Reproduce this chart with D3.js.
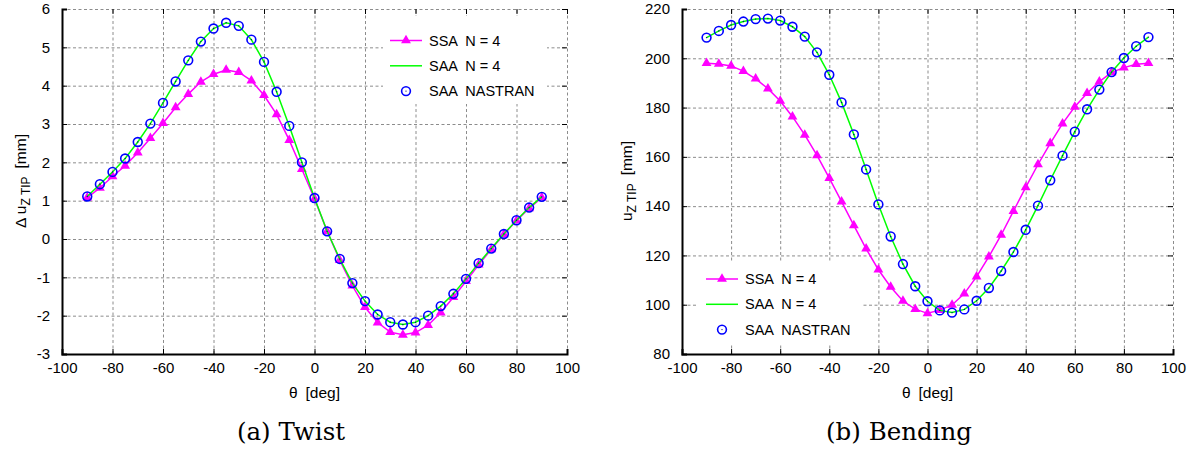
<!DOCTYPE html>
<html>
<head>
<meta charset="utf-8">
<script src="https://cdn.jsdelivr.net/npm/d3@7/dist/d3.min.js"></script>
<style>
  body { margin: 0; background: #fff; }
  svg { font-family: "Liberation Sans", Arial, sans-serif; }
  svg text { white-space: pre; }
</style>
</head>
<body>
<div id="chart"></div>
<script>
// theta [deg]
var theta = [-90,-85,-80,-75,-70,-65,-60,-55,-50,-45,-40,-35,-30,-25,-20,-15,-10,-5,0,
             5,10,15,20,25,30,35,40,45,50,55,60,65,70,75,80,85,90];

// (a) Twist, delta u_z tip [mm]
var twistSSA = [1.08,1.33,1.63,1.91,2.25,2.63,3.02,3.43,3.78,4.1,4.3,4.41,4.35,4.13,3.75,3.25,2.58,1.82,1.05,
                0.2,-0.55,-1.22,-1.78,-2.18,-2.43,-2.5,-2.44,-2.25,-1.92,-1.52,-1.1,-0.67,-0.27,0.12,0.48,0.8,1.08];
var twistSAA = [1.11,1.43,1.75,2.1,2.53,3.01,3.55,4.11,4.66,5.15,5.49,5.64,5.56,5.2,4.62,3.84,2.95,2.0,1.07,
                0.2,-0.52,-1.15,-1.62,-1.97,-2.17,-2.23,-2.17,-2.0,-1.75,-1.43,-1.04,-0.63,-0.25,0.13,0.49,0.82,1.1];
var twistNastran = [1.11,1.43,1.75,2.1,2.53,3.01,3.55,4.11,4.66,5.15,5.49,5.64,5.56,5.2,4.62,3.84,2.95,2.0,1.07,
                0.2,-0.52,-1.15,-1.62,-1.97,-2.17,-2.23,-2.17,-2.0,-1.75,-1.43,-1.04,-0.63,-0.25,0.13,0.49,0.82,1.1];

// (b) Bending, u_z tip [mm]
var bendSSA = [198.0,197.7,196.9,194.8,191.7,187.7,182.7,176.3,168.9,160.6,151.4,141.8,132.2,122.7,114.2,107.2,101.5,98.2,96.5,
               97.8,99.9,104.5,111.4,119.5,128.3,138.0,147.6,156.9,165.5,173.5,180.3,185.8,190.5,194.3,196.2,197.6,198.0];
var bendSAA = [208.4,211.1,213.5,214.9,215.9,216.1,215.3,212.8,208.8,202.4,193.3,182.1,169.1,154.9,140.7,127.7,116.5,107.5,101.4,
               97.7,96.8,98.1,101.6,106.8,113.7,121.4,130.4,140.2,150.5,160.5,170.2,179.3,187.3,194.4,200.1,204.9,208.6];
var bendNastran = [208.4,211.1,213.5,214.9,215.9,216.1,215.3,212.8,208.8,202.4,193.3,182.1,169.1,154.9,140.7,127.7,116.5,107.5,101.4,
               97.7,96.8,98.1,101.6,106.8,113.7,121.4,130.4,140.2,150.5,160.5,170.2,179.3,187.3,194.4,200.1,204.9,208.6];

var xTicks = [-100,-80,-60,-40,-20,0,20,40,60,80,100];
var twistTicks = [-3,-2,-1,0,1,2,3,4,5,6];
var bendTicks = [80,100,120,140,160,180,200,220];
var seriesNames = ["SSA  N = 4", "SAA  N = 4", "SAA  NASTRAN"];

var magenta = "#ff00ff", green = "#00ff00", blue = "#0000ff";

var svg = d3.select("#chart").append("svg").attr("width", 1199).attr("height", 453);

function panel(cfg) {
  var x = d3.scaleLinear().domain([-100, 100]).range([cfg.left, cfg.right]);
  var y = d3.scaleLinear().domain(cfg.yDomain).range([354, 9]);
  var g = svg.append("g");

  // grid
  g.append("g").attr("transform", "translate(0,354)")
    .call(d3.axisBottom(x).tickValues(xTicks).tickSize(-345).tickFormat(""))
    .call(a => a.select(".domain").remove())
    .selectAll("line").attr("stroke", "#8c8c8c").attr("stroke-dasharray", "3,2.5");
  g.append("g").attr("transform", "translate(" + cfg.left + ",0)")
    .call(d3.axisLeft(y).tickValues(cfg.yTicks).tickSize(-(cfg.right - cfg.left)).tickFormat(""))
    .call(a => a.select(".domain").remove())
    .selectAll("line").attr("stroke", "#8c8c8c").attr("stroke-dasharray", "3,2.5");

  // inward ticks on top/right
  g.append("g").attr("transform", "translate(0,9)")
    .call(d3.axisTop(x).tickValues(xTicks).tickSize(-5).tickFormat(""))
    .call(a => a.select(".domain").remove())
    .selectAll("line").attr("stroke", "#000");
  g.append("g").attr("transform", "translate(" + cfg.right + ",0)")
    .call(d3.axisRight(y).tickValues(cfg.yTicks).tickSize(-5).tickFormat(""))
    .call(a => a.select(".domain").remove())
    .selectAll("line").attr("stroke", "#000");

  // legend background (drawn before data)
  var lg = cfg.legend;
  g.append("rect").attr("x", lg.x).attr("y", lg.y).attr("width", lg.w).attr("height", lg.h).attr("fill", "#fff");

  // bottom / left axes with labels
  var bx = g.append("g").attr("transform", "translate(0,354)")
    .call(d3.axisBottom(x).tickValues(xTicks).tickSize(-5).tickPadding(8).tickFormat(d => String(d)));
  var ly = g.append("g").attr("transform", "translate(" + cfg.left + ",0)")
    .call(d3.axisLeft(y).tickValues(cfg.yTicks).tickSize(-5).tickPadding(12).tickFormat(d => String(d)));
  [bx, ly].forEach(function(a) {
    a.select(".domain").attr("stroke-width", 2);
    a.selectAll("text").attr("font-size", 15).attr("fill", "#000")
      .attr("font-family", "Liberation Sans, Arial, sans-serif");
  });

  var pts = function(vals) { return theta.map(function(t, i) { return [t, vals[i]]; }); };
  var line = d3.line().x(d => x(d[0])).y(d => y(d[1]));

  // SSA
  g.append("path").datum(pts(cfg.ssa)).attr("d", line)
    .attr("fill", "none").attr("stroke", magenta).attr("stroke-width", 1.5);
  g.selectAll(".tri").data(pts(cfg.ssa)).join("path")
    .attr("d", d3.symbol(d3.symbolTriangle, 42))
    .attr("transform", d => "translate(" + x(d[0]) + "," + y(d[1]) + ")")
    .attr("fill", magenta);
  // SAA N=4
  g.append("path").datum(pts(cfg.saa)).attr("d", line)
    .attr("fill", "none").attr("stroke", green).attr("stroke-width", 1.5);
  // NASTRAN
  var nas = g.selectAll(".nas").data(pts(cfg.nastran)).join("g")
    .attr("transform", d => "translate(" + x(d[0]) + "," + y(d[1]) + ")");
  nas.append("circle").attr("r", 4.4).attr("fill", "none").attr("stroke", blue).attr("stroke-width", 1.6);
  nas.append("circle").attr("r", 0.7).attr("fill", "#00008b");

  // legend
  seriesNames.forEach(function(name, i) {
    var yy = lg.ly + i * 25.3;
    if (i < 2) {
      g.append("line").attr("x1", lg.lx).attr("x2", lg.lx + 32).attr("y1", yy).attr("y2", yy)
        .attr("stroke", i == 0 ? magenta : green).attr("stroke-width", 1.5);
    }
    if (i == 0) {
      g.append("path").attr("d", d3.symbol(d3.symbolTriangle, 42))
        .attr("transform", "translate(" + (lg.lx + 16) + "," + yy + ")").attr("fill", magenta);
    }
    if (i == 2) {
      g.append("circle").attr("cx", lg.lx + 16).attr("cy", yy).attr("r", 4.4)
        .attr("fill", "none").attr("stroke", blue).attr("stroke-width", 1.6);
      g.append("circle").attr("cx", lg.lx + 16).attr("cy", yy).attr("r", 0.7).attr("fill", "#00008b");
    }
    g.append("text").attr("x", lg.lx + 39).attr("y", yy + 5).attr("font-size", 14.5).text(name);
  });

  // axis titles
  var xt = g.append("text").attr("x", x(0)).attr("y", 398).attr("text-anchor", "middle").attr("font-size", 15.5);
  xt.append("tspan").text("θ");
  xt.append("tspan").attr("dx", 8).text("[deg]");

  var yt = g.append("text").attr("transform", "translate(" + cfg.titleX + ",181) rotate(-90)")
    .attr("text-anchor", "middle").attr("font-size", 15.5);
  yt.append("tspan").text(cfg.yPrefix);
  yt.append("tspan").attr("font-size", 12).attr("dy", 4).text("Z TIP");
  yt.append("tspan").attr("dy", -4).attr("dx", 8).text("[mm]");

  svg.append("text").attr("x", cfg.capX).attr("y", 440).attr("text-anchor", "middle")
    .attr("font-family", "DejaVu Serif, serif").attr("font-size", 24.5).text(cfg.caption);
}

panel({left: 62, right: 567, yDomain: [-3, 6], yTicks: twistTicks,
       ssa: twistSSA, saa: twistSAA, nastran: twistNastran,
       legend: {x: 383, y: 16, w: 164, h: 88, lx: 390, ly: 40.5},
       titleX: 26, yPrefix: "Δ u", caption: "(a) Twist", capX: 291});
panel({left: 682, right: 1173, yDomain: [80, 220], yTicks: bendTicks,
       ssa: bendSSA, saa: bendSAA, nastran: bendNastran,
       legend: {x: 697, y: 263, w: 166, h: 82, lx: 706, ly: 279},
       titleX: 632, yPrefix: "u", caption: "(b) Bending", capX: 899});
</script>
</body>
</html>
